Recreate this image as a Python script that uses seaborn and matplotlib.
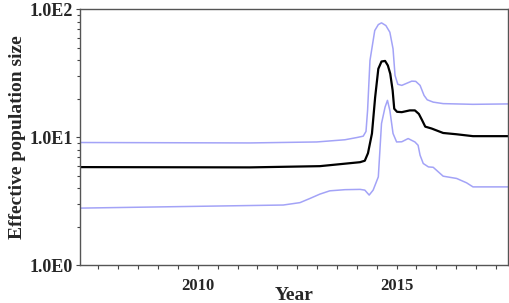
import numpy as np
import pandas as pd
import matplotlib
matplotlib.use("Agg")
import matplotlib.pyplot as plt
import matplotlib.ticker as mticker
import seaborn as sns

# values (year, effective population size)
median_year = [2007.04, 2011.31, 2013.07, 2014.08, 2014.20, 2014.28, 2014.38, 2014.46,
               2014.54, 2014.62, 2014.71, 2014.78, 2014.84, 2014.90, 2014.94, 2015.01,
               2015.13, 2015.33, 2015.46, 2015.56, 2015.64, 2015.72, 2015.88, 2016.17,
               2016.51, 2016.92, 2017.80]
median_ne = [5.85, 5.82, 5.95, 6.39, 6.56, 7.51, 10.7, 20.5,
             34.2, 39.0, 39.4, 36.3, 31.3, 23.2, 16.7, 15.8,
             15.7, 16.2, 16.2, 15.2, 13.6, 12.1, 11.7, 10.8,
             10.55, 10.2, 10.2]

upper_year = [2007.04, 2011.31, 2012.99, 2013.70, 2014.00, 2014.16, 2014.23, 2014.27,
              2014.33, 2014.45, 2014.54, 2014.62, 2014.73, 2014.83, 2014.91, 2014.96,
              2015.03, 2015.13, 2015.38, 2015.48, 2015.59, 2015.69, 2015.77, 2015.92,
              2016.17, 2016.92, 2017.80]
upper_ne = [9.1, 9.03, 9.19, 9.56, 9.95, 10.2, 11.1, 16.2,
            39.7, 68.0, 75.7, 78.1, 74.4, 66.0, 49.0, 30.4,
            25.9, 25.4, 27.4, 27.3, 25.4, 21.2, 19.6, 18.8,
            18.3, 18.07, 18.2]

lower_year = [2007.04, 2012.15, 2012.57, 2012.82, 2013.07, 2013.32, 2013.70, 2014.08,
              2014.20, 2014.31, 2014.41, 2014.54, 2014.58, 2014.62, 2014.71, 2014.77,
              2014.83, 2014.91, 2015.00, 2015.13, 2015.29, 2015.46, 2015.54, 2015.59,
              2015.67, 2015.80, 2015.92, 2016.17, 2016.51, 2016.76, 2016.92, 2017.80]
lower_ne = [2.80, 2.96, 3.09, 3.33, 3.60, 3.82, 3.90, 3.92,
            3.87, 3.54, 3.87, 4.91, 7.92, 12.8, 17.2, 19.4,
            16.2, 10.7, 9.19, 9.22, 9.77, 9.19, 8.66, 7.24,
            6.24, 5.87, 5.83, 4.97, 4.77, 4.41, 4.10, 4.10]

x_ticks = [2010, 2015]
y_ticks = [1, 10, 100]
y_labels = ["1.0E0", "1.0E1", "1.0E2"]

sns.set_style("ticks")
plt.rcParams["font.family"] = ["Liberation Serif", "DejaVu Serif"]
plt.rcParams["font.weight"] = "bold"

fig, ax = plt.subplots(figsize=(5.1, 3.03), dpi=100)
fig.subplots_adjust(left=0.157, right=0.996, top=0.970, bottom=0.124)

band = "#a3a3f7"
sns.lineplot(x=upper_year, y=upper_ne, ax=ax, color=band, lw=1.1)
sns.lineplot(x=lower_year, y=lower_ne, ax=ax, color=band, lw=1.1)
sns.lineplot(x=median_year, y=median_ne, ax=ax, color="black", lw=1.6)

ax.set_yscale("log")
ax.set_ylim(1, 100)
ax.set_xlim(2007.04, 2017.8)
ax.set_yticks(y_ticks)
ax.set_yticklabels(y_labels)
ax.yaxis.set_minor_locator(mticker.LogLocator(base=10, subs=np.arange(2, 10)))
ax.yaxis.set_minor_formatter(mticker.NullFormatter())
ax.set_xticks(x_ticks)
ax.set_xticklabels([str(t) for t in x_ticks])
ax.xaxis.set_minor_locator(mticker.MultipleLocator(0.5))

ax.tick_params(axis="both", which="both", direction="out", color="#444444", width=0.8)
ax.tick_params(axis="x", which="both", length=3, pad=6, labelsize=12)
ax.tick_params(axis="y", which="major", length=3, pad=2, labelsize=13)
ax.tick_params(axis="y", which="minor", length=2)
for s in ax.spines.values():
    s.set_color("#555555")
    s.set_linewidth(1.0)

ax.set_xlabel("Year", fontsize=14, fontweight="bold")
ax.xaxis.set_label_coords(0.5, -0.083)
ax.set_ylabel("Effective population size", fontsize=14, fontweight="bold", labelpad=3)

fig.savefig("out.png", dpi=100)
